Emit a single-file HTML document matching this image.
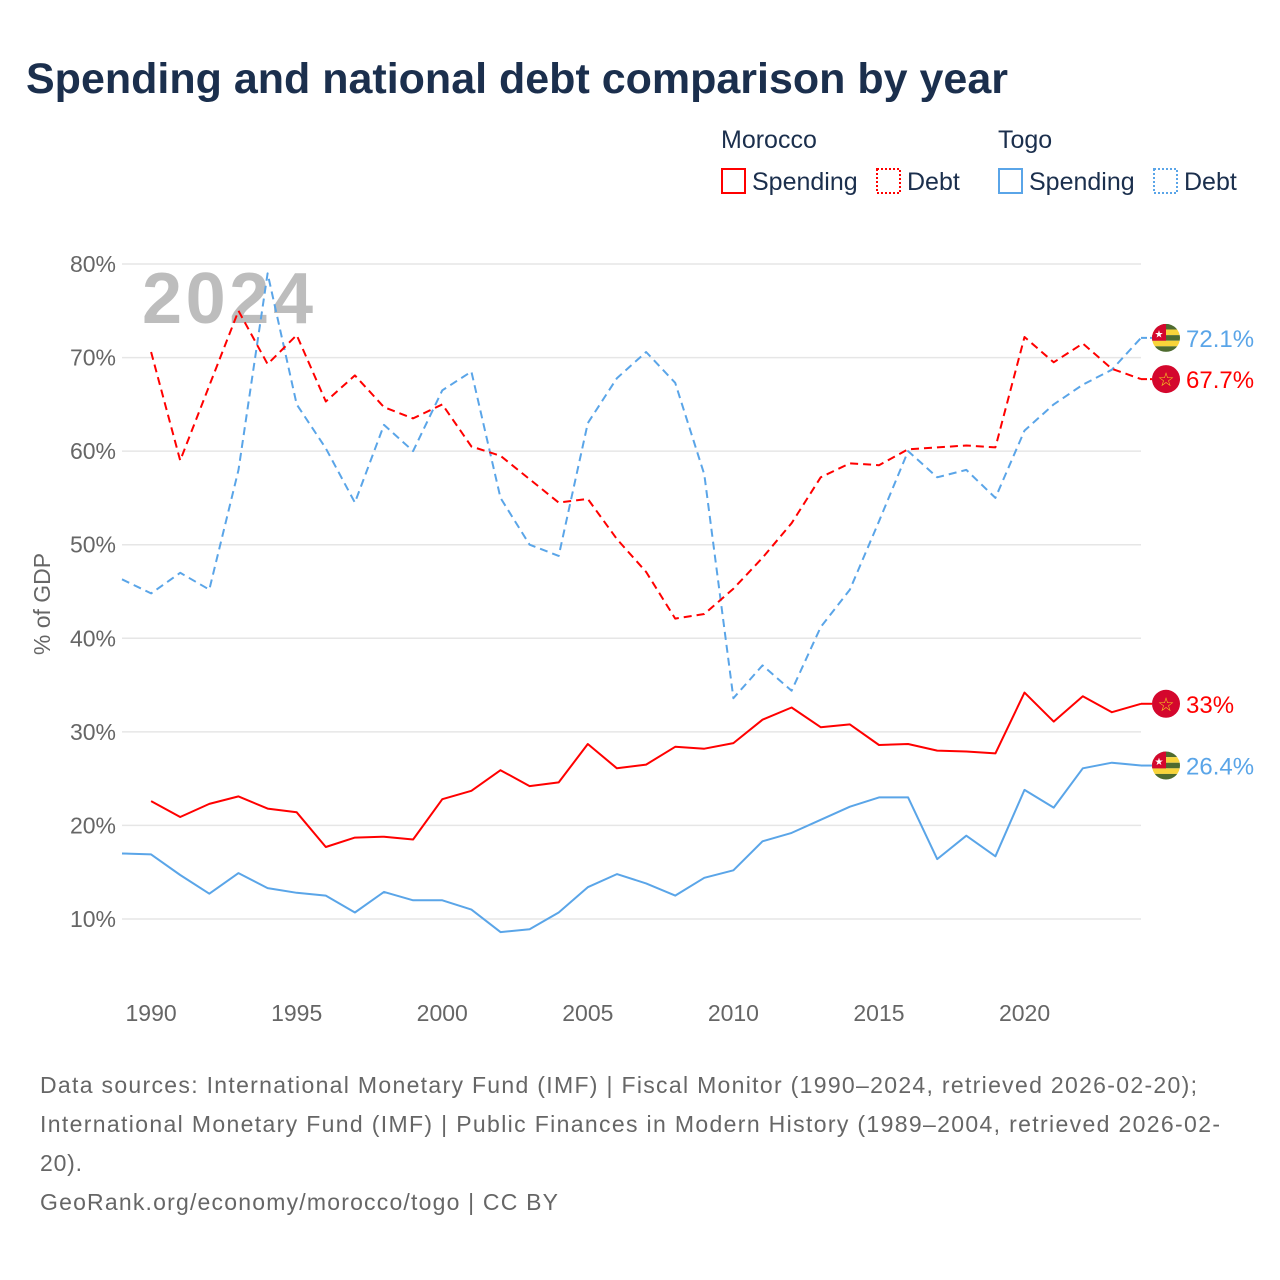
<!DOCTYPE html>
<html><head><meta charset="utf-8"><style>
body{margin:0;background:#fff;}
svg{display:block;font-family:"Liberation Sans",sans-serif;}
</style></head><body>
<svg id="c" width="1280" height="1280" viewBox="0 0 1280 1280">
<text x="26" y="93" font-size="43" font-weight="bold" fill="#1b2f4d">Spending and national debt comparison by year</text>
<g font-size="25" fill="#1b2f4d">
<text x="721" y="148">Morocco</text>
<text x="998" y="148">Togo</text>
<g><rect x="722" y="169" width="23" height="24" fill="none" stroke="#f00" stroke-width="2"/><text x="752" y="190">Spending</text></g>
<g><rect x="877" y="169" width="23" height="24" fill="none" stroke="#f00" stroke-width="2" stroke-dasharray="2,2"/><text x="907" y="190">Debt</text></g>
<g><rect x="999" y="169" width="23" height="24" fill="none" stroke="#5aa5e8" stroke-width="2"/><text x="1029" y="190">Spending</text></g>
<g><rect x="1154" y="169" width="23" height="24" fill="none" stroke="#5aa5e8" stroke-width="2" stroke-dasharray="2,2"/><text x="1184" y="190">Debt</text></g>
</g>
<text x="142" y="323" font-size="72" font-weight="bold" fill="#bdbdbd" textLength="171">2024</text>
<g id="grid"></g>
<g id="series"></g>
<g id="ends"></g>
<text transform="translate(50,604) rotate(-90)" text-anchor="middle" font-size="23" fill="#666">% of GDP</text>
<g font-size="23" fill="#666">
<text x="40" y="1093" textLength="1157">Data sources: International Monetary Fund (IMF) | Fiscal Monitor (1990–2024, retrieved 2026-02-20);</text>
<text x="40" y="1132" textLength="1180">International Monetary Fund (IMF) | Public Finances in Modern History (1989–2004, retrieved 2026-02-</text>
<text x="40" y="1171" textLength="42">20).</text>
<text x="40" y="1210" textLength="518">GeoRank.org/economy/morocco/togo | CC BY</text>
</g>
</svg>
<script>
const yTicks=[10,20,30,40,50,60,70,80];
const xTicks=[1990,1995,2000,2005,2010,2015,2020];
const maYears=[1990,1991,1992,1993,1994,1995,1996,1997,1998,1999,2000,2001,2002,2003,2004,2005,2006,2007,2008,2009,2010,2011,2012,2013,2014,2015,2016,2017,2018,2019,2020,2021,2022,2023,2024];
const maSpending=[22.6,20.9,22.3,23.1,21.8,21.4,17.7,18.7,18.8,18.5,22.8,23.7,25.9,24.2,24.6,28.7,26.1,26.5,28.4,28.2,28.8,31.3,32.6,30.5,30.8,28.6,28.7,28.0,27.9,27.7,34.2,31.1,33.8,32.1,33.0];
const maDebt=[70.6,59.0,67.0,75.0,69.3,72.4,65.3,68.1,64.7,63.5,65.0,60.5,59.5,57.0,54.5,54.9,50.6,47.1,42.1,42.6,45.3,48.6,52.3,57.2,58.7,58.5,60.2,60.4,60.6,60.4,72.2,69.5,71.5,68.8,67.7];
const tgYears=[1989,1990,1991,1992,1993,1994,1995,1996,1997,1998,1999,2000,2001,2002,2003,2004,2005,2006,2007,2008,2009,2010,2011,2012,2013,2014,2015,2016,2017,2018,2019,2020,2021,2022,2023,2024];
const tgSpending=[17.0,16.9,14.7,12.7,14.9,13.3,12.8,12.5,10.7,12.9,12.0,12.0,11.0,8.6,8.9,10.7,13.4,14.8,13.8,12.5,14.4,15.2,18.3,19.2,20.6,22.0,23.0,23.0,16.4,18.9,16.7,23.8,21.9,26.1,26.7,26.4];
const tgDebt=[46.3,44.8,47.0,45.2,58.0,79.0,65.0,60.3,54.5,62.8,60.0,66.5,68.5,55.0,50.0,48.8,63.0,67.8,70.6,67.3,57.5,33.6,37.1,34.4,41.2,45.2,52.5,60.0,57.2,58.0,55.0,62.2,65.0,67.1,68.7,72.1];
const endLabels=["72.1%","67.7%","33%","26.4%"];

const NS="http://www.w3.org/2000/svg";
const X=y=>122+(y-1989)*(1141-122)/35;
const Y=v=>919-(v-10)*(919-264)/70;
function mk(t,a,p){const e=document.createElementNS(NS,t);for(const k in a)e.setAttribute(k,a[k]);p.appendChild(e);return e;}
const grid=document.getElementById('grid');
yTicks.forEach(v=>{
 const l=mk('line',{x1:122,x2:1141,y1:Y(v),y2:Y(v),stroke:'#e6e6e6','stroke-width':1.5},grid);
 
 
 const t=mk('text',{x:116,y:Y(v)+8,'text-anchor':'end','font-size':23,fill:'#666'},grid);
 t.textContent=v+'%';
 
 
});
xTicks.forEach(y=>{
 const t=mk('text',{x:X(y),y:1021,'text-anchor':'middle','font-size':23,fill:'#666'},grid);
 t.textContent=y;
 
 
});
const sg=document.getElementById('series');
function line(xs,vs,col,dash,name){
 const d=xs.map((y,i)=>(i?'L':'M')+X(y).toFixed(1)+','+Y(vs[i]).toFixed(1)).join('');
 const p=mk('path',{d:d,fill:'none',stroke:col,'stroke-width':2,'stroke-linejoin':'round'},sg);
 if(dash)p.setAttribute('stroke-dasharray','8,5');
 
 
}
line(tgYears,tgDebt,'#5aa5e8',true,'togo-debt-line');
line(maYears,maDebt,'#f00',true,'morocco-debt-line');
line(tgYears,tgSpending,'#5aa5e8',false,'togo-spending-line');
line(maYears,maSpending,'#f00',false,'morocco-spending-line');
const eg=document.getElementById('ends');
function end(v,col,flag,label,name,dash){
 const x0=X(2024),y0=Y(v),cx=1166;
 const c=mk('line',{x1:x0,y1:y0,x2:cx-14,y2:y0,stroke:col,'stroke-width':2},eg);
 if(dash)c.setAttribute('stroke-dasharray','6,3');
 const g=mk('g',{},eg);
 
 
 if(flag==='ma'){
  mk('circle',{cx:cx,cy:y0,r:14,fill:'#d4072d'},g);
  const t=mk('text',{x:cx,y:y0+7,'text-anchor':'middle','font-size':19,fill:'#f5d020'},g);t.textContent='☆';
 } else {
  const cp=mk('clipPath',{id:'cp'+name},g);mk('circle',{cx:cx,cy:y0,r:14},cp);
  const gg=mk('g',{'clip-path':'url(#cp'+name+')'},g);
  for(let i=0;i<5;i++)mk('rect',{x:cx-14,y:y0-14+i*5.6,width:28,height:5.6,fill:i%2?'#f8d43a':'#4e6b2f'},gg);
  mk('rect',{x:cx-14,y:y0-14,width:14,height:16.8,fill:'#d4072d'},gg);
  const t=mk('text',{x:cx-7,y:y0-0.5,'text-anchor':'middle','font-size':10,fill:'#fff'},gg);t.textContent='★';
 }
 const t=mk('text',{x:1186,y:y0+9,'font-size':24,fill:col},eg);
 t.textContent=label;
 
 
}
end(tgDebt[tgDebt.length-1],'#5aa5e8','tg',endLabels[0],'togo-debt',true);
end(maDebt[maDebt.length-1],'#f00','ma',endLabels[1],'morocco-debt',true);
end(maSpending[maSpending.length-1],'#f00','ma',endLabels[2],'morocco-spending',false);
end(tgSpending[tgSpending.length-1],'#5aa5e8','tg',endLabels[3],'togo-spending',false);
</script>
</body></html>
